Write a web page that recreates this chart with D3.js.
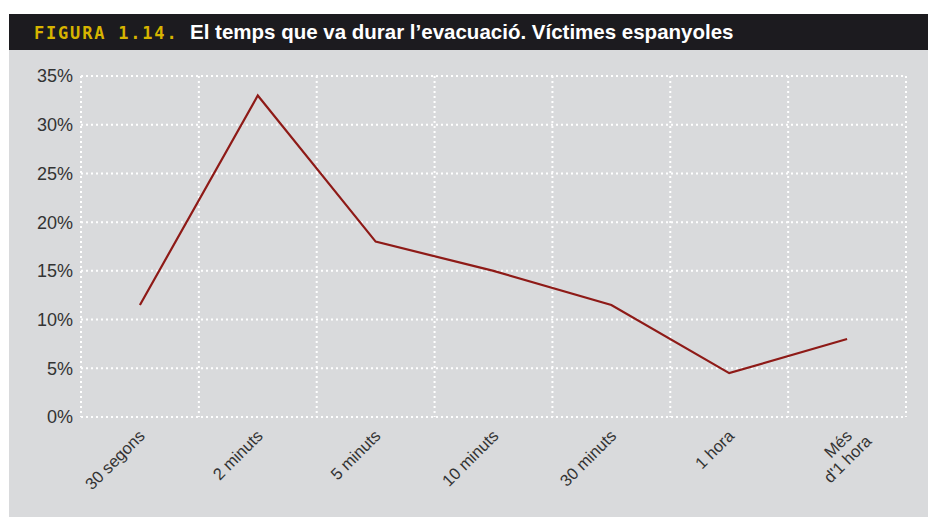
<!DOCTYPE html>
<meta charset="utf-8">
<style>
body { margin: 0; background: #fff; }
svg text { font-family: "Liberation Sans", Arial, sans-serif; }
.grid line { stroke: #fff; stroke-width: 2; stroke-dasharray: 2,3; }
</style>
<svg width="928" height="517"></svg>
<script src="https://cdn.jsdelivr.net/npm/d3@7"></script>
<script>
// categories and values (percent of Spanish victims)
var categories = ["30 segons", "2 minuts", "5 minuts", "10 minuts", "30 minuts", "1 hora", "Més\nd'1 hora"];
var values = [11.5, 33, 18, 15, 11.5, 4.5, 8];
var yTicks = [0, 5, 10, 15, 20, 25, 30, 35];

var svg = d3.select("svg");

// header bar + panel
svg.append("rect").attr("x", 9).attr("y", 14).attr("width", 919).attr("height", 36).attr("fill", "#1c1b1f");
svg.append("rect").attr("x", 9).attr("y", 50).attr("width", 919).attr("height", 467).attr("fill", "#d9dadc");

var title = svg.append("text").attr("x", 34).attr("y", 39);
title.append("tspan")
    .attr("fill", "#d7b400")
    .style("font-family", "'DejaVu Sans Mono', monospace")
    .style("font-weight", "bold")
    .style("font-size", "17px")
    .style("letter-spacing", "1.8px")
    .text("FIGURA 1.14.");
title.append("tspan")
    .attr("x", 190)
    .attr("fill", "#fff")
    .style("font-weight", "bold")
    .style("font-size", "20.5px")
    .text("El temps que va durar l’evacuació. Víctimes espanyoles");

var mLeft = 81, mRight = 906, mTop = 76, mBottom = 417;

var x = d3.scaleBand().domain(categories).range([mLeft, mRight]);
var y = d3.scaleLinear().domain([0, 35]).range([mBottom, mTop]);

var grid = svg.append("g").attr("class", "grid");
grid.selectAll(".h").data(yTicks).enter().append("line")
    .attr("x1", mLeft).attr("x2", mRight)
    .attr("y1", function(d) { return y(d); }).attr("y2", function(d) { return y(d); });
var vx = categories.map(function(c) { return x(c); }).concat([mRight]);
grid.selectAll(".v").data(vx).enter().append("line")
    .attr("x1", function(d) { return d; }).attr("x2", function(d) { return d; })
    .attr("y1", mTop).attr("y2", mBottom);

// y axis labels
svg.append("g").selectAll("text").data(yTicks).enter().append("text")
    .attr("x", 73).attr("y", function(d) { return y(d); })
    .attr("dy", "0.36em")
    .attr("text-anchor", "end")
    .attr("fill", "#333")
    .style("font-size", "18px")
    .text(function(d) { return d + "%"; });

// x axis labels
var xl = svg.append("g").selectAll("text").data(categories).enter().append("text")
    .attr("text-anchor", "end")
    .attr("fill", "#333")
    .style("font-size", "16.5px")
    .attr("transform", function(d) {
      return "translate(" + (x(d) + x.bandwidth() / 2 + 6) + "," + 437 + ") rotate(-45)";
    });
xl.each(function(d) {
  var lines = d.split("\n");
  var t = d3.select(this);
  lines.forEach(function(s, i) {
    t.append("tspan").attr("x", i ? 10 : 0).attr("dy", i ? "1.05em" : 0).text(s);
  });
});

// line
var line = d3.line()
    .x(function(d, i) { return x(categories[i]) + x.bandwidth() / 2; })
    .y(function(d) { return y(d); });

svg.append("path")
    .datum(values)
    .attr("fill", "none")
    .attr("stroke", "#8e1a17")
    .attr("stroke-width", 2.2)
    .attr("d", line);
</script>
